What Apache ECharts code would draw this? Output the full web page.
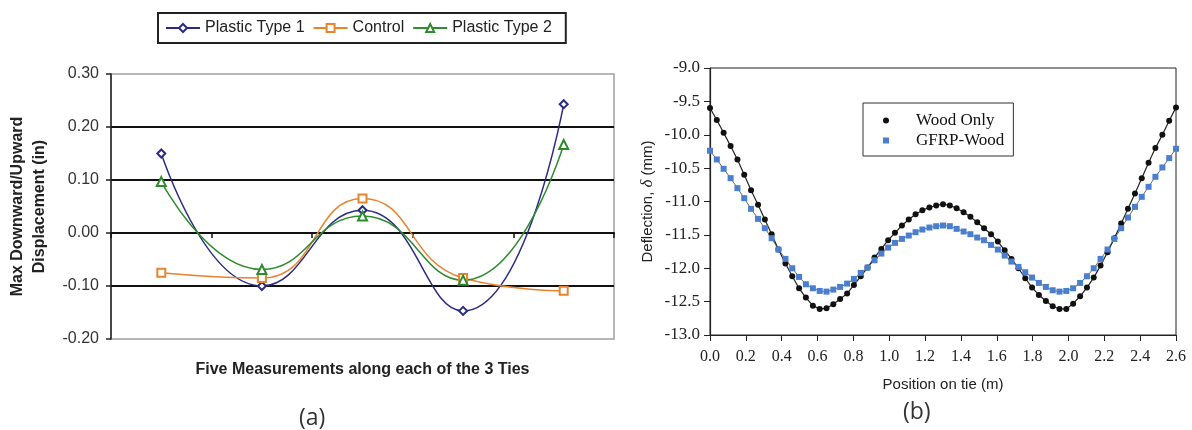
<!DOCTYPE html>
<html lang="en">
<head>
    <meta charset="UTF-8">
    <title>Tie displacement / deflection</title>
    <script type="text/javascript" src="https://cdn.jsdelivr.net/npm/echarts@6/dist/echarts.min.js"></script>
    <style>
        html, body { margin: 0; padding: 0; background: #fff; }
        #chart { width: 1192px; height: 430px; }
    </style>
</head>
<body>
<div id="chart"></div>
<script type="text/javascript">
    // (a) five measurements along the 3 ties
    var measureCats = ['1', '2', '3', '4', '5'];
    var plasticType1 = [0.150, -0.100, 0.043, -0.147, 0.243];
    var controlVals = [-0.075, -0.085, 0.065, -0.085, -0.109];
    var plasticType2 = [0.097, -0.069, 0.032, -0.089, 0.167];

    // (b) deflection along the tie (m / mm)
    var positions = [0.000, 0.038, 0.076, 0.115, 0.153, 0.191, 0.229, 0.268, 0.306, 0.344,
        0.382, 0.421, 0.459, 0.497, 0.535, 0.574, 0.612, 0.650, 0.688, 0.726,
        0.765, 0.803, 0.841, 0.879, 0.918, 0.956, 0.994, 1.032, 1.071, 1.109,
        1.147, 1.185, 1.224, 1.262, 1.300, 1.338, 1.376, 1.415, 1.453, 1.491,
        1.529, 1.568, 1.606, 1.644, 1.682, 1.721, 1.759, 1.797, 1.835, 1.874,
        1.912, 1.950, 1.988, 2.026, 2.065, 2.103, 2.141, 2.179, 2.218, 2.256,
        2.294, 2.332, 2.371, 2.409, 2.447, 2.485, 2.524, 2.562, 2.600];
    var woodOnly = [-9.60, -9.78, -9.97, -10.17, -10.37, -10.60, -10.83, -11.05, -11.27, -11.49,
        -11.72, -11.93, -12.12, -12.30, -12.44, -12.56, -12.61, -12.60, -12.54, -12.46,
        -12.38, -12.25, -12.12, -11.99, -11.84, -11.71, -11.58, -11.47, -11.36, -11.27,
        -11.19, -11.13, -11.09, -11.06, -11.04, -11.06, -11.10, -11.16, -11.23, -11.31,
        -11.40, -11.49, -11.60, -11.73, -11.86, -12.00, -12.15, -12.29, -12.40, -12.49,
        -12.57, -12.61, -12.61, -12.53, -12.42, -12.29, -12.14, -11.96, -11.76, -11.55,
        -11.33, -11.11, -10.88, -10.65, -10.42, -10.20, -10.00, -9.79, -9.59];
    var gfrpWood = [-10.24, -10.37, -10.51, -10.65, -10.80, -10.95, -11.11, -11.26, -11.40, -11.55,
        -11.72, -11.86, -12.00, -12.13, -12.24, -12.30, -12.34, -12.35, -12.32, -12.28,
        -12.23, -12.16, -12.07, -11.99, -11.88, -11.78, -11.69, -11.62, -11.56, -11.51,
        -11.46, -11.42, -11.39, -11.37, -11.36, -11.37, -11.41, -11.45, -11.49, -11.54,
        -11.58, -11.65, -11.72, -11.81, -11.90, -11.98, -12.06, -12.14, -12.22, -12.28,
        -12.33, -12.35, -12.34, -12.30, -12.22, -12.12, -12.00, -11.86, -11.72, -11.56,
        -11.40, -11.24, -11.08, -10.93, -10.78, -10.63, -10.49, -10.35, -10.21];

    function pairs(xs, ys) {
        return xs.map(function (x, i) { return [x, ys[i]]; });
    }

    var sans = 'Liberation Sans';
    var serif = 'Liberation Serif';

    var mychart = echarts.init(document.getElementById('chart'), null, {renderer: 'canvas'});
    var option = {
        backgroundColor: '#fff',
        animation: false,
        title: [
            {text: '(a)', left: 294, top: 402, textStyle: {fontFamily: 'Open Sans', fontSize: 23, fontWeight: 'normal', color: '#333'}},
            {text: '(b)', left: 898, top: 396, textStyle: {fontFamily: 'Open Sans', fontSize: 23, fontWeight: 'normal', color: '#333'}}
        ],
        legend: [
            {
                data: ['Plastic Type 1', 'Control', 'Plastic Type 2'],
                left: 158, top: 13,
                padding: [7, 14, 7, 7],
                itemWidth: 34, itemHeight: 10, itemGap: 8,
                borderColor: '#222', borderWidth: 2,
                textStyle: {fontFamily: sans, fontSize: 16, color: '#222'}
            },
            {
                data: [{name: 'Wood Only', icon: 'circle'}, {name: 'GFRP-Wood', icon: 'rect'}],
                orient: 'vertical',
                left: 863, top: 103,
                padding: [9, 9, 7, 20],
                itemWidth: 6, itemHeight: 6, itemGap: 3,
                borderColor: '#333', borderWidth: 1,
                textStyle: {fontFamily: serif, fontSize: 17, color: '#111', padding: [0, 0, 0, 22]}
            }
        ],
        grid: [
            {left: 111, top: 74, width: 503, height: 265, outerBoundsMode: 'none', show: true, borderColor: '#a0a0a0', borderWidth: 1.5, backgroundColor: 'transparent'},
            {left: 710, top: 68, width: 466, height: 267, outerBoundsMode: 'none', show: true, borderColor: '#222', borderWidth: 1, backgroundColor: 'transparent'}
        ],
        xAxis: [
            {
                gridIndex: 0, type: 'category', data: measureCats, boundaryGap: true,
                axisLine: {onZero: true, lineStyle: {color: '#111', width: 2}},
                axisTick: {show: true, length: 5, lineStyle: {color: '#111', width: 1.5}},
                axisLabel: {show: false},
                name: 'Five Measurements along each of the 3 Ties',
                nameLocation: 'middle', nameGap: 23,
                nameTextStyle: {fontFamily: sans, fontSize: 16, fontWeight: 'bold', color: '#222'}
            },
            {
                gridIndex: 1, type: 'value', min: 0, max: 2.6, interval: 0.2,
                axisLine: {onZero: false, lineStyle: {color: '#222', width: 1.2}},
                axisTick: {length: 6, lineStyle: {color: '#222'}},
                axisLabel: {fontFamily: serif, fontSize: 16, color: '#222', margin: 14,
                    formatter: function (v) { return v.toFixed(1); }},
                splitLine: {show: false},
                name: 'Position on tie (m)', nameLocation: 'middle', nameGap: 42,
                nameTextStyle: {fontFamily: sans, fontSize: 15, color: '#222'}
            }
        ],
        yAxis: [
            {
                gridIndex: 0, type: 'value', min: -0.2, max: 0.3, interval: 0.1,
                axisLine: {show: true, lineStyle: {color: '#222', width: 1.5}},
                axisTick: {show: true, length: 5, lineStyle: {color: '#222', width: 1.5}},
                axisLabel: {fontFamily: sans, fontSize: 16, color: '#333', margin: 12,
                    formatter: function (v) { return v.toFixed(2); }},
                splitLine: {show: true, showMinLine: false, showMaxLine: false, lineStyle: {color: '#111', width: 2}},
                name: 'Max Downward/Upward\nDisplacement (in)',
                nameLocation: 'middle', nameGap: 60,
                nameTextStyle: {fontFamily: sans, fontSize: 16, fontWeight: 'bold', color: '#222', lineHeight: 22}
            },
            {
                gridIndex: 1, type: 'value', min: -13, max: -9, interval: 0.5,
                axisLine: {onZero: false, lineStyle: {color: '#222', width: 1.2}},
                axisTick: {length: 6, lineStyle: {color: '#222'}},
                axisLabel: {fontFamily: serif, fontSize: 17, color: '#222', margin: 10,
                    formatter: function (v) { return v.toFixed(1); }},
                splitLine: {show: false},
                name: 'Deflection, {d|δ} (mm)', nameLocation: 'middle', nameGap: 54,
                nameTextStyle: {fontFamily: sans, fontSize: 15, color: '#222',
                    rich: {d: {fontFamily: serif, fontStyle: 'italic', fontSize: 17, color: '#222'}}}
            }
        ],
        series: [
            {
                name: 'Plastic Type 1', type: 'line', xAxisIndex: 0, yAxisIndex: 0,
                data: plasticType1, smooth: 0.5,
                symbol: 'emptyDiamond', symbolSize: 8,
                itemStyle: {color: '#2b2b86'}, lineStyle: {color: '#2b2b86', width: 1.5}
            },
            {
                name: 'Control', type: 'line', xAxisIndex: 0, yAxisIndex: 0,
                data: controlVals, smooth: 0.5,
                symbol: 'emptyRect', symbolSize: 8,
                itemStyle: {color: '#e8832e'}, lineStyle: {color: '#e8832e', width: 1.5}
            },
            {
                name: 'Plastic Type 2', type: 'line', xAxisIndex: 0, yAxisIndex: 0,
                data: plasticType2, smooth: 0.5,
                symbol: 'emptyTriangle', symbolSize: 9,
                itemStyle: {color: '#2e8b2e'}, lineStyle: {color: '#2e8b2e', width: 1.5}
            },
            {
                name: 'Wood Only', type: 'line', xAxisIndex: 1, yAxisIndex: 1,
                data: pairs(positions, woodOnly),
                symbol: 'circle', symbolSize: 6,
                itemStyle: {color: '#111'}, lineStyle: {color: '#222', width: 1.2}
            },
            {
                name: 'GFRP-Wood', type: 'line', xAxisIndex: 1, yAxisIndex: 1,
                data: pairs(positions, gfrpWood),
                symbol: 'rect', symbolSize: 6,
                itemStyle: {color: '#4a7fcf'}, lineStyle: {color: '#444', width: 0.8}
            }
        ]
    };
    mychart.setOption(option);
</script>
</body>
</html>
